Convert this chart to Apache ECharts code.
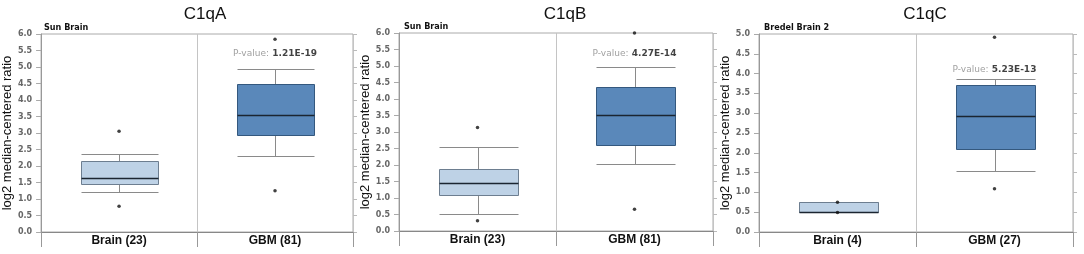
<!DOCTYPE html>
<html><head><meta charset="utf-8">
<script src="https://cdn.jsdelivr.net/npm/echarts@6/dist/echarts.min.js"></script>
<style>html,body{margin:0;padding:0;background:#fff}#c{width:1084px;height:254px}</style>
</head><body><div id="c"></div>
<script>
const genes = ['C1qA', 'C1qB', 'C1qC'];
const datasetNames = ['Sun Brain', 'Sun Brain', 'Bredel Brain 2'];
const categoriesA = ['Brain (23)', 'GBM (81)'];
const categoriesB = ['Brain (23)', 'GBM (81)'];
const categoriesC = ['Brain (4)', 'GBM (27)'];
// [min whisker, Q1, median, Q3, max whisker]
const boxA = [[1.20, 1.46, 1.64, 2.14, 2.35], [2.31, 2.94, 3.56, 4.48, 4.94]];
const boxB = [[0.51, 1.08, 1.46, 1.88, 2.54], [2.02, 2.61, 3.53, 4.36, 4.96]];
const boxC = [[0.50, 0.50, 0.51, 0.76, 0.76], [1.54, 2.10, 2.94, 3.71, 3.86]];
const outliersA = [[0, 3.05], [0, 0.78], [1, 5.84], [1, 1.25]];
const outliersB = [[0, 3.14], [0, 0.31], [1, 6.0], [1, 0.66]];
const outliersC = [[0, 0.75], [0, 0.49], [1, 4.92], [1, 1.09]];
const pValues = ['1.21E-19', '4.27E-14', '5.23E-13'];
const pValueY = [5.40, 5.38, 4.10];
const yMax = [6, 6, 5];
const yInterval = 0.5;

const categories = [categoriesA, categoriesB, categoriesC];
const boxes = [boxA, boxB, boxC];
const outliers = [outliersA, outliersB, outliersC];

const grids = [
  {left: 39, top: 34, width: 314, height: 198},
  {left: 399, top: 33, width: 314, height: 198},
  {left: 759, top: 34, width: 314, height: 198}
];
const fills = ['#bed2e6', '#5a88ba'];
const borders = ['#6d7e90', '#34587e'];
const whiskerColor = '#8a8a8a';
const medianColor = '#1b2531';

function renderBox(params, api) {
  const ci = api.value(0);
  const cat = Math.round(ci);
  const band = api.size([1, 0])[0];
  const half = band * 0.25;
  const pMin = api.coord([ci, api.value(1)]);
  const pQ1 = api.coord([ci, api.value(2)]);
  const pMed = api.coord([ci, api.value(3)]);
  const pQ3 = api.coord([ci, api.value(4)]);
  const pMax = api.coord([ci, api.value(5)]);
  const cx = Math.round(pMin[0]) + 0.5;
  const x0 = Math.round(cx - half) + 0.5, x1 = Math.round(cx + half) + 0.5;
  const snap = v => Math.round(v) + 0.5;
  const ws = {stroke: whiskerColor, lineWidth: 1};
  return {
    type: 'group', silent: true,
    children: [
      {type: 'line', shape: {x1: cx, y1: snap(pMin[1]), x2: cx, y2: snap(pQ1[1])}, style: ws},
      {type: 'line', shape: {x1: cx, y1: snap(pQ3[1]), x2: cx, y2: snap(pMax[1])}, style: ws},
      {type: 'line', shape: {x1: x0, y1: snap(pMin[1]), x2: x1, y2: snap(pMin[1])}, style: ws},
      {type: 'line', shape: {x1: x0, y1: snap(pMax[1]), x2: x1, y2: snap(pMax[1])}, style: ws},
      {type: 'rect', shape: {x: x0, y: snap(pQ3[1]), width: x1 - x0, height: snap(pQ1[1]) - snap(pQ3[1])},
        style: {fill: fills[cat], stroke: borders[cat], lineWidth: 1}},
      {type: 'line', shape: {x1: x0, y1: snap(pMed[1]), x2: x1, y2: snap(pMed[1])},
        style: {stroke: medianColor, lineWidth: 1.5}}
    ]
  };
}

const option = {animation: false, title: [], grid: [], xAxis: [], yAxis: [], series: []};

for (let p = 0; p < 3; p++) {
  const g = grids[p];
  option.grid.push(Object.assign({show: true, borderColor: '#aaaaaa', borderWidth: 1, backgroundColor: 'transparent'}, g));
  option.title.push({
    text: genes[p], left: g.left + g.width / 2 + 4, top: 1, textAlign: 'center',
    textStyle: {fontFamily: 'Liberation Sans', fontSize: 17, fontWeight: 'normal', color: '#111'}
  });
  option.title.push({
    text: datasetNames[p], left: g.left, top: g.top - 16,
    textStyle: {fontFamily: 'DejaVu Sans Condensed', fontSize: 9, fontWeight: 'bold', color: '#111'}
  });
  option.xAxis.push({
    type: 'category', gridIndex: p, data: categories[p], boundaryGap: true,
    axisLine: {show: true, lineStyle: {color: '#555', width: 1.2}},
    axisTick: {show: true, interval: 0, length: 15, lineStyle: {color: '#999'}},
    splitLine: {show: true, interval: 0, lineStyle: {color: '#c4c4c4'}},
    axisLabel: {interval: 0, margin: 3, fontFamily: 'Liberation Sans', fontSize: 12, fontWeight: 'bold', color: '#111'}
  });
  option.xAxis.push({
    type: 'category', gridIndex: p, data: categories[p], position: 'bottom', offset: 15,
    axisLine: {show: true, lineStyle: {color: '#888'}},
    axisTick: {show: false}, axisLabel: {show: false}, splitLine: {show: false}
  });
  option.yAxis.push({
    type: 'value', gridIndex: p, min: 0, max: yMax[p], interval: yInterval,
    name: 'log2 median-centered ratio', nameLocation: 'middle', nameGap: 18,
    nameTextStyle: {fontFamily: 'Liberation Sans', fontSize: 13, color: '#111'},
    axisLine: {show: true, lineStyle: {color: '#999'}},
    axisTick: {show: true, length: 5, lineStyle: {color: '#aaa'}},
    splitLine: {show: false},
    axisLabel: {margin: 9, fontFamily: 'DejaVu Sans', fontSize: 8, fontWeight: 'bold', color: '#666',
      formatter: v => v.toFixed(1)}
  });
  option.yAxis.push({
    type: 'value', gridIndex: p, min: 0, max: yMax[p], interval: yInterval, position: 'right',
    axisLine: {show: false}, axisTick: {show: true, length: 4, lineStyle: {color: '#bbb'}},
    splitLine: {show: false}, axisLabel: {show: false}
  });
  const xi = 2 * p, yi = 2 * p;
  option.series.push({
    type: 'custom', xAxisIndex: xi, yAxisIndex: yi, silent: true,
    renderItem: renderBox,
    encode: {x: 0, y: [1, 2, 3, 4, 5]},
    data: boxes[p].map((b, i) => [i].concat(b))
  });
  option.series.push({
    type: 'scatter', xAxisIndex: xi, yAxisIndex: yi, clip: false, silent: true,
    symbolSize: 3.5, itemStyle: {color: '#111'}, data: outliers[p], z: 5
  });
  option.series.push({
    type: 'scatter', xAxisIndex: xi, yAxisIndex: yi, clip: false, silent: true,
    symbolSize: 0, data: [[1, pValueY[p]]],
    label: {show: true, position: 'inside', formatter: '{g|P-value:} {b|' + pValues[p] + '}',
      rich: {
        g: {fontFamily: 'DejaVu Sans', fontSize: 9, color: '#888'},
        b: {fontFamily: 'DejaVu Sans', fontSize: 9, fontWeight: 'bold', color: '#111'}
      }}
  });
}

const chart = echarts.init(document.getElementById('c'), null, {renderer: 'canvas'});
chart.setOption(option);
</script></body></html>
